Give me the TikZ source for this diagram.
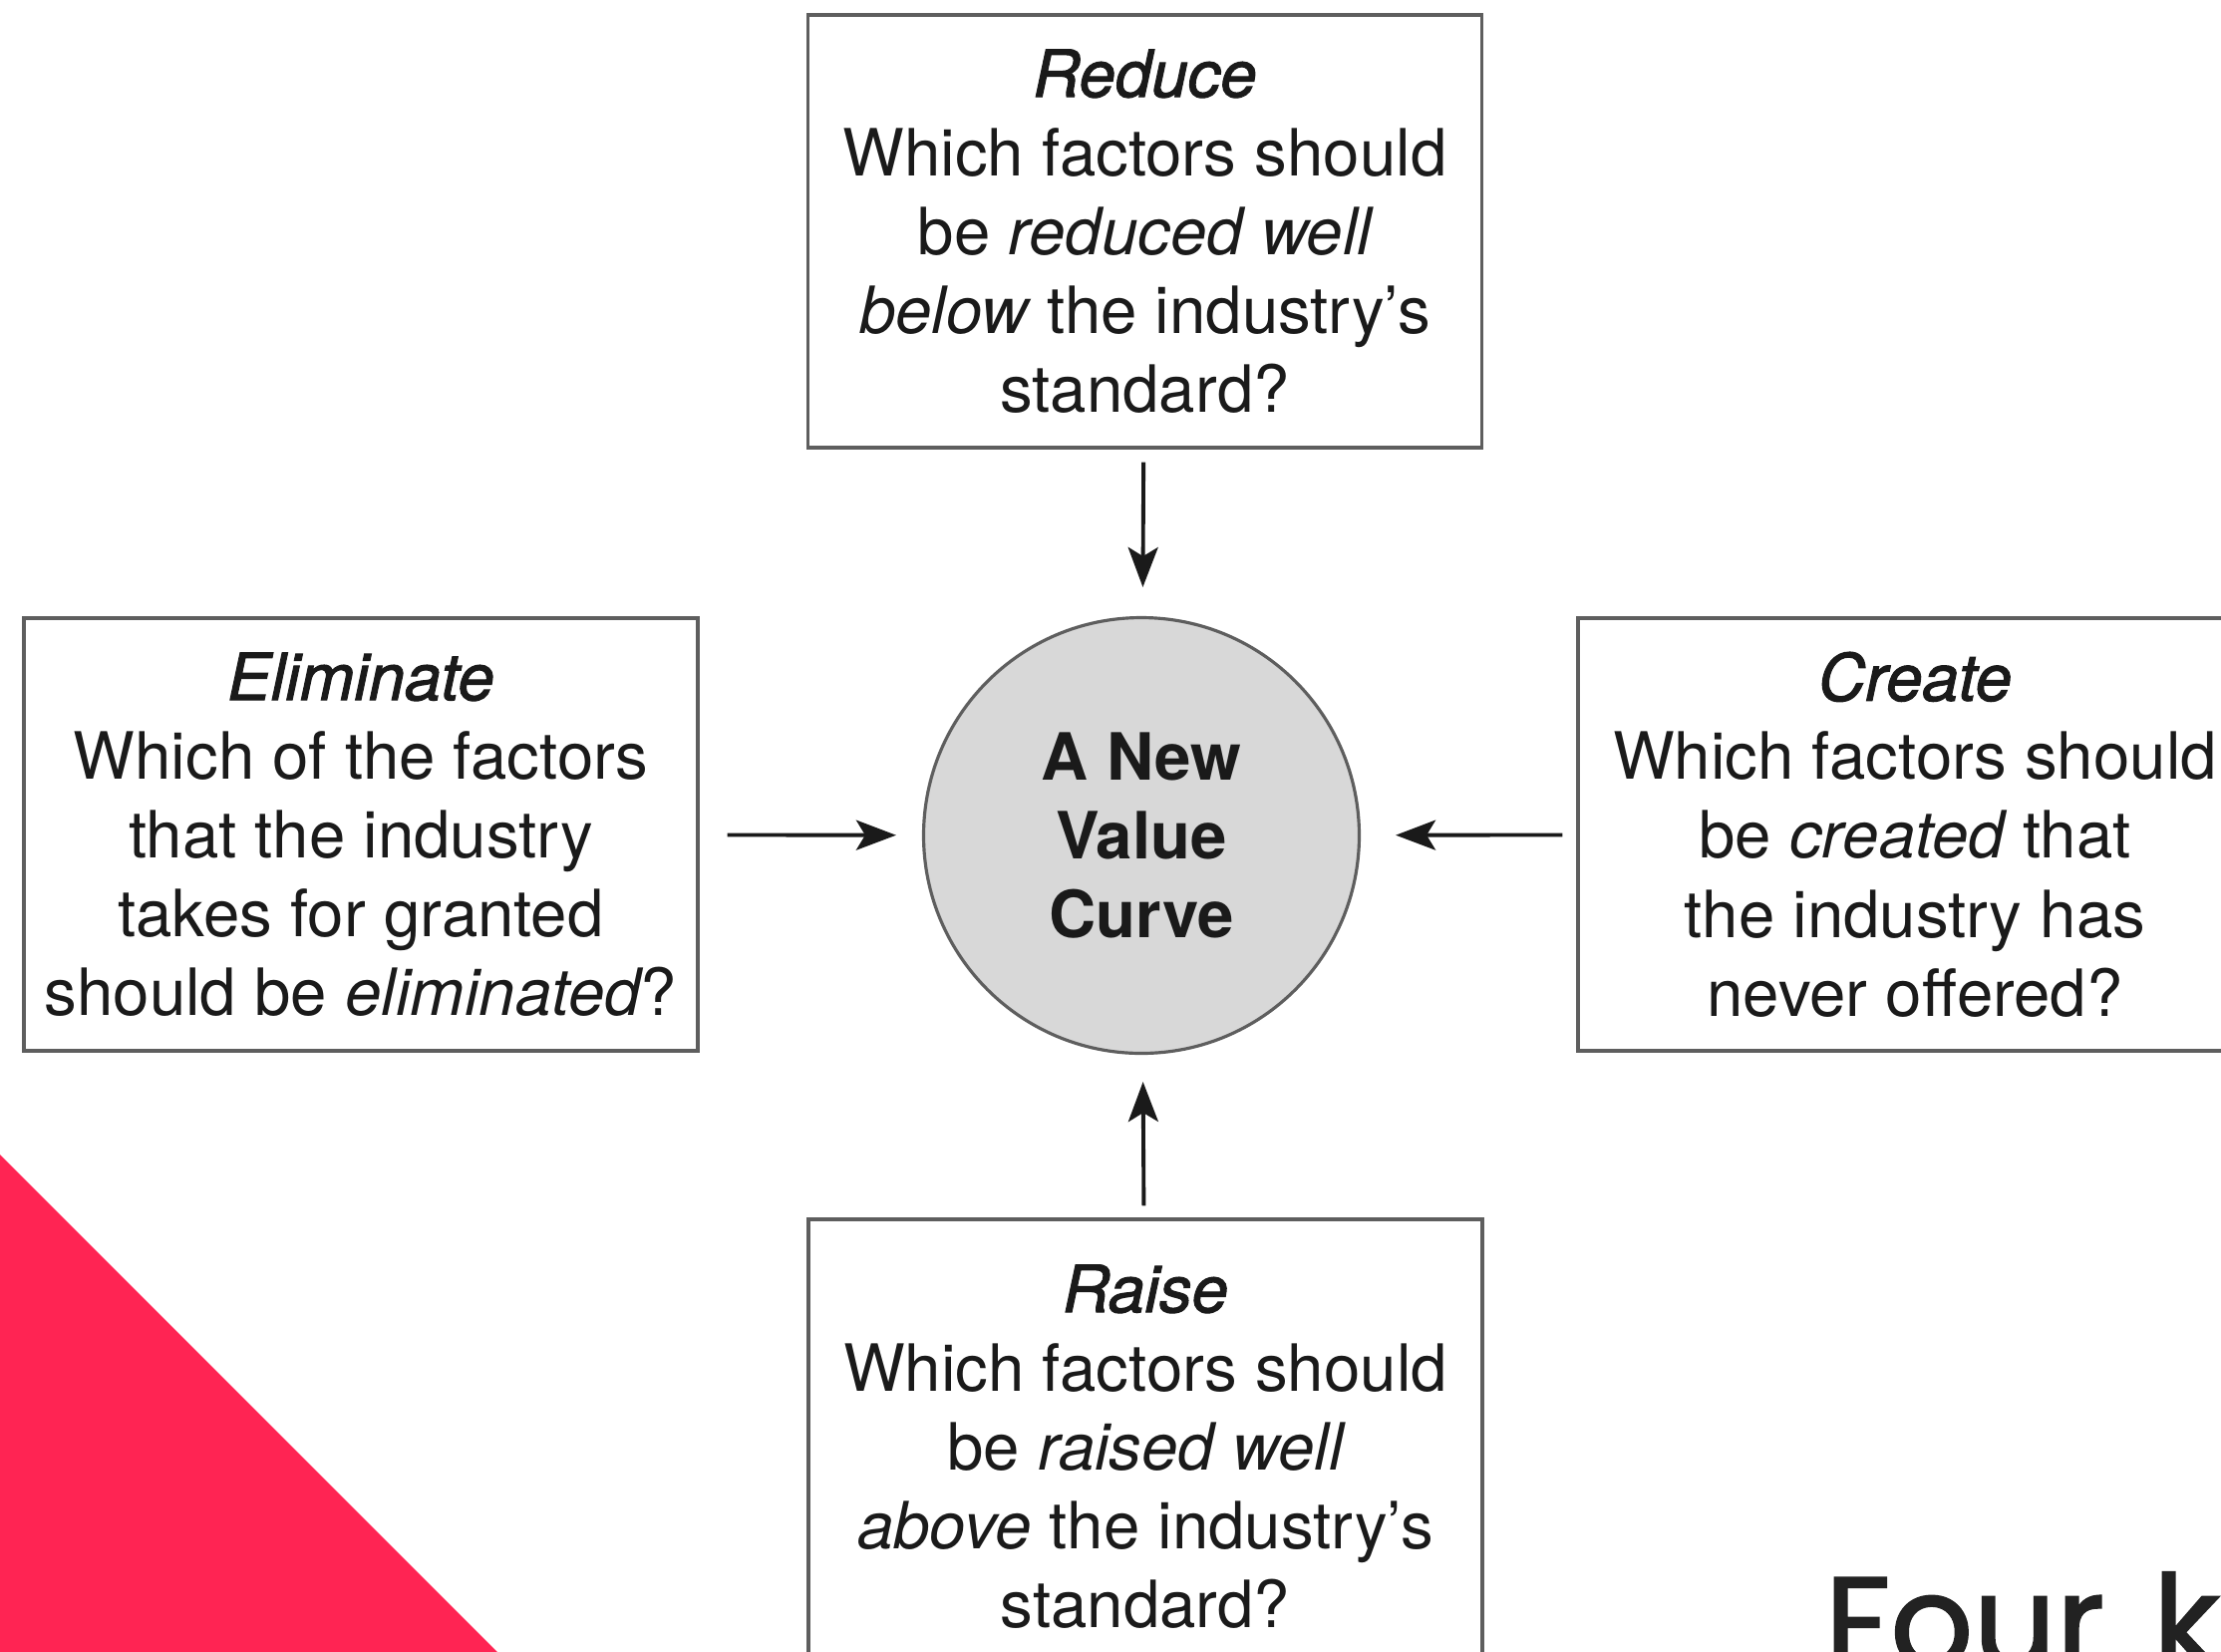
\documentclass[tikz,border=0pt]{standalone}
\usepackage{fontspec}
\usepackage{xcolor}
\usetikzlibrary{arrows.meta}

\setmainfont{TeX Gyre Heros}
\newfontfamily\verbfont{texgyreheros-italic}[Extension=.otf, FakeBold=1.6]
\newfontfamily\headfont{Poppins}[WordSpace=1.4, FakeBold=1.6]

\definecolor{boxline}{HTML}{5E5E5E}
\definecolor{curvefill}{HTML}{D8D8D8}
\definecolor{accent}{HTML}{FF2453}
\definecolor{ink}{HTML}{1A1A1A}
\definecolor{headink}{HTML}{222222}

% action word on top of each box
\newcommand{\verbword}[1]{{\verbfont #1}}

\begin{document}
\begin{tikzpicture}[
        action/.style={draw=boxline, line width=0.9pt, minimum width=6.76cm, minimum height=4.34cm,
            inner sep=0pt, align=center, text=ink, font=\fontsize{18.6}{22.5}\selectfont},
        hub/.style={circle, draw=boxline, line width=0.9pt, fill=curvefill, minimum size=4.37cm,
            inner sep=0pt, align=center, text=ink, font=\fontsize{18.6}{22.5}\selectfont\bfseries},
        flow/.style={-{Stealth[length=0.4cm, width=0.3cm, inset=0.09cm]}, line width=1.1pt, draw=ink}
    ]
        % Page frame
        \useasboundingbox (0,0) rectangle (22.28,-16.56);

        % Corner wedge
        \fill[accent] (0,-11.58) -- (5.03,-16.61) -- (-0.05,-16.61) -- (-0.05,-11.58) -- cycle;

        % Value curve in the middle
        \node[hub] (curve) at (11.45,-8.38) {A New\\ Value\\ Curve};

        % The four actions
        \node[action] (reduce) at (11.485,-2.32) {\verbword{Reduce}\\ Which factors should\\ be {\itshape reduced well}\\ {\itshape below} the industry's\\ standard?};
        \node[action] (eliminate) at (3.62,-8.37) {\verbword{Eliminate}\\ Which of the factors\\ that the industry\\ takes for granted\\ should be {\itshape eliminated}?};
        \node[action] (create) at (19.21,-8.37) {\verbword{Create}\\ Which factors should\\ be {\itshape created} that\\ the industry has\\ never offered?};
        \node[action, minimum height=4.56cm] (raise) at (11.49,-14.51) {\verbword{Raise}\\ Which factors should\\ be {\itshape raised well}\\ {\itshape above} the industry's\\ standard?};

        % Arrows into the curve
        \draw[flow, shorten <=0.13cm, shorten >=0.29cm] (reduce) -- (curve);
        \draw[flow, shorten <=0.28cm, shorten >=0.26cm] (eliminate) -- (curve);
        \draw[flow, shorten <=0.14cm, shorten >=0.35cm] (create) -- (curve);
        \draw[flow, shorten <=0.12cm, shorten >=0.27cm] (raise) -- (curve);

        % Heading, running off the page
        \node[anchor=base west, inner sep=0pt, text=headink, font=\headfont\fontsize{37}{44}\selectfont] (heading) at (18.30,-16.73) {Four k};
    \end{tikzpicture}
\end{document}
